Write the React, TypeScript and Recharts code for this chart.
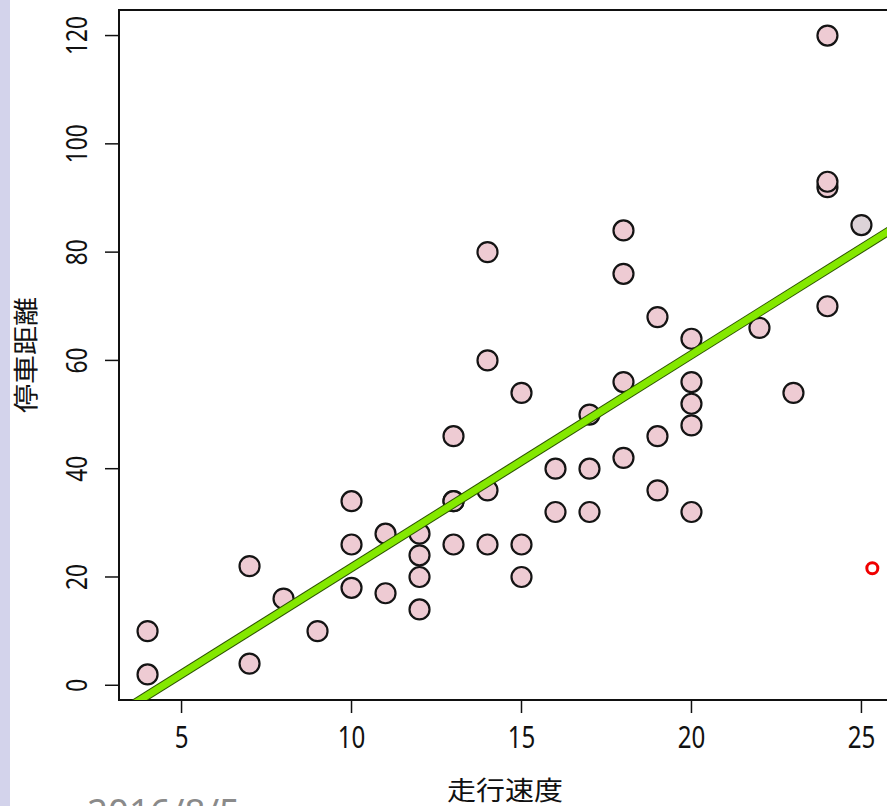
import React from 'react';
import { ScatterChart, Scatter, XAxis, YAxis, ReferenceArea, ReferenceDot, Cell } from 'recharts';

// cars dataset: speed vs stopping distance
const speed = [4, 4, 7, 7, 8, 9, 10, 10, 10, 11, 11, 12, 12, 12, 12, 13, 13, 13, 13, 14, 14, 14, 14, 15, 15, 15, 16, 16, 17, 17, 17, 18, 18, 18, 18, 19, 19, 19, 20, 20, 20, 20, 20, 22, 23, 24, 24, 24, 24, 25];
const dist = [2, 10, 4, 22, 16, 10, 18, 26, 34, 17, 28, 14, 20, 24, 28, 26, 34, 34, 46, 26, 36, 60, 80, 20, 26, 54, 32, 40, 32, 40, 50, 42, 56, 76, 84, 36, 46, 68, 32, 48, 52, 56, 64, 66, 54, 70, 92, 93, 120, 85];

// lm(dist ~ speed)
const intercept = -17.579;
const slope = 3.932;

const xDomain = [3.16, 25.84];
const yDomain = [-2.72, 124.72];
const xTicks = [5, 10, 15, 20, 25];
const yTicks = [0, 20, 40, 60, 80, 100, 120];

// stray red marker on the slide
const marker = { x: 25.32, y: 21.6 };

const points = speed.map((s, i) => ({ x: s, y: dist[i] }));
const fitLine = xDomain.map(x => ({ x, y: intercept + slope * x }));

const NUM_FONT = '"Noto Sans", "Open Sans", sans-serif';
const CJK_FONT = '"Noto Sans CJK JP", "Noto Sans CJK SC", sans-serif';

const XTick = ({ x, y, payload }: any) => {
  const s = String(payload.value);
  return (
    <text x={x} y={y + 33} textAnchor="middle" fontSize={30} fontFamily={NUM_FONT} fill="#111"
      textLength={s.length * 13.8} lengthAdjust="spacingAndGlyphs">
      {s}
    </text>
  );
};

const YTick = ({ x, y, payload }: any) => {
  const s = String(payload.value);
  const cx = x - 27;
  return (
    <text x={cx} y={y} transform={`rotate(-90, ${cx}, ${y})`} textAnchor="middle" dominantBaseline="central"
      fontSize={29} fontFamily={NUM_FONT} fill="#111" textLength={s.length * 13} lengthAdjust="spacingAndGlyphs">
      {s}
    </text>
  );
};

export default function App() {
  return (
    <div style={{ position: 'absolute', left: 0, top: 0, width: 887, height: 806, overflow: 'hidden', background: '#fff' }}>
      <div style={{ position: 'absolute', left: 0, top: 0, width: 10, height: 806, background: '#d3d3eb' }} />
      <ScatterChart width={900} height={806} margin={{ top: 10, right: 10, bottom: 46, left: 0 }}>
        <XAxis type="number" dataKey="x" domain={xDomain} ticks={xTicks} allowDataOverflow
          axisLine={false} tickSize={13} tickLine={{ stroke: '#111', strokeWidth: 1.5 }}
          tick={<XTick />} height={60} />
        <YAxis type="number" dataKey="y" domain={yDomain} ticks={yTicks} allowDataOverflow
          axisLine={false} tickSize={14} tickMargin={2} tickLine={{ stroke: '#111', strokeWidth: 1.5 }}
          tick={<YTick />} width={119} />
        <ReferenceArea x1={xDomain[0]} x2={xDomain[1]} y1={yDomain[0]} y2={yDomain[1]}
          fill="none" fillOpacity={0} stroke="#111" strokeWidth={2} ifOverflow="visible" />
        <Scatter data={points} isAnimationActive={false}
          shape={(p: any) => <circle cx={p.cx} cy={p.cy} r={10} fill={p.fill} stroke="#141414" strokeWidth={2.2} />}>
          {points.map((d, i) => (
            <Cell key={i} fill={d.x === 25 ? '#ddd3d8' : '#eecbd3'} />
          ))}
        </Scatter>
        <Scatter data={fitLine} isAnimationActive={false} line={{ stroke: '#2c5200', strokeWidth: 9 }} shape={() => null} />
        <Scatter data={fitLine} isAnimationActive={false} line={{ stroke: '#84e800', strokeWidth: 7 }} shape={() => null} />
        <ReferenceDot x={marker.x} y={marker.y} r={5.5} fill="#fff" stroke="#f00000" strokeWidth={3} ifOverflow="visible" />
        <text x={24} y={355} transform="rotate(-90, 24, 355)" textAnchor="middle" dominantBaseline="central"
          fontSize={25} fontFamily={CJK_FONT} fill="#111" textLength={116} lengthAdjust="spacingAndGlyphs">
          停車距離
        </text>
        <text x={505} y={800} textAnchor="middle" fontSize={26} fontFamily={CJK_FONT} fill="#111"
          textLength={116} lengthAdjust="spacingAndGlyphs">
          走行速度
        </text>
        <text x={87} y={825} fontSize={37} fontFamily={NUM_FONT} fill="#8a8a8a"
          textLength={153} lengthAdjust="spacingAndGlyphs">
          2016/8/5
        </text>
      </ScatterChart>
    </div>
  );
}
